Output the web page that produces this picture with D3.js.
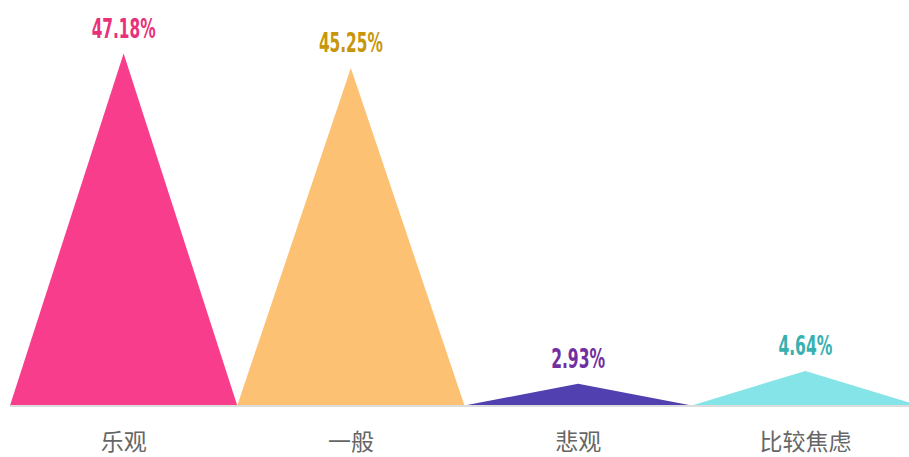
<!DOCTYPE html>
<html>
<head>
<meta charset="utf-8">
<script src="https://cdn.jsdelivr.net/npm/d3@7/dist/d3.min.js"></script>
<style>
  body { margin: 0; background: #fff; }
  svg { display: block; }
</style>
</head>
<body>
<div id="chart"></div>
<script>
// data
const categories = ['乐观', '一般', '悲观', '比较焦虑'];
const values = [47.18, 45.25, 2.93, 4.64];
const fillColors = ['#f83d8c', '#fdc174', '#5040b0', '#84e4e8'];
const labelColors = ['#e8317a', '#c8960a', '#7030a0', '#38b0b0'];

const width = 909, height = 457;
const svg = d3.select('#chart').append('svg')
    .attr('width', width)
    .attr('height', height);

const x = d3.scaleBand()
    .domain(categories)
    .range([10, 919])
    .padding(0);

const y = d3.scaleLinear()
    .domain([0, 50])
    .range([405.5, 32.5]);

const data = categories.map((c, i) => ({cat: c, value: values[i], fill: fillColors[i], label: labelColors[i]}));

// triangles, full band wide
svg.append('g').selectAll('path')
    .data(data)
    .enter()
    .append('path')
    .attr('d', d => {
        const x0 = x(d.cat), x1 = x0 + x.bandwidth(), xm = x0 + x.bandwidth() / 2;
        return 'M' + x0 + ',' + y(0) + 'L' + xm + ',' + y(d.value) + 'L' + x1 + ',' + y(0) + 'Z';
    })
    .attr('fill', d => d.fill);

// base line
svg.append('line')
    .attr('x1', 10).attr('x2', width)
    .attr('y1', 406).attr('y2', 406)
    .attr('stroke', '#dcdcdc')
    .attr('stroke-width', 2);

// value labels
svg.append('g').selectAll('text')
    .data(data)
    .enter()
    .append('text')
    .attr('x', d => x(d.cat) + x.bandwidth() / 2)
    .attr('y', d => y(d.value) - 16)
    .attr('text-anchor', 'middle')
    .attr('font-family', '"Liberation Sans Narrow", "DejaVu Sans Condensed", sans-serif')
    .attr('font-weight', 'bold')
    .attr('font-size', 27)
    .attr('textLength', d => d.value >= 10 ? 64 : 54)
    .attr('lengthAdjust', 'spacingAndGlyphs')
    .attr('fill', d => d.label)
    .text(d => d.value.toFixed(2) + '%');

// category labels
svg.append('g').selectAll('text')
    .data(data)
    .enter()
    .append('text')
    .attr('x', d => x(d.cat) + x.bandwidth() / 2)
    .attr('y', 450)
    .attr('text-anchor', 'middle')
    .attr('font-family', '"Noto Sans CJK SC", sans-serif')
    .attr('font-size', 23)
    .attr('fill', '#666')
    .text(d => d.cat);
</script>
</body>
</html>
